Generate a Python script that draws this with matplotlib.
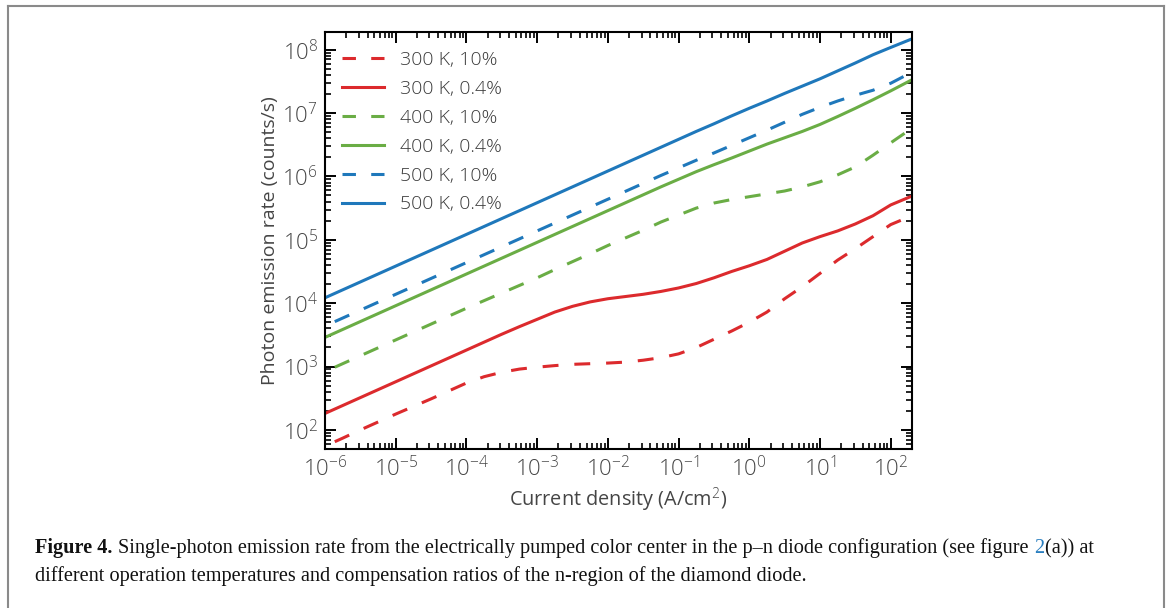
import numpy as np
import matplotlib
matplotlib.use("Agg")
import matplotlib.pyplot as plt
from matplotlib.ticker import LogLocator, NullFormatter, FuncFormatter
from matplotlib.lines import Line2D
from matplotlib.font_manager import FontProperties

# ---------------- data (stored as log10 values) ----------------
log_current_density = [-6.0, -5.75, -5.5, -5.25, -5.0, -4.75, -4.5, -4.25, -4.0, -3.75,
                       -3.5, -3.25, -3.0, -2.75, -2.5, -2.25, -2.0, -1.75, -1.5, -1.25,
                       -1.0, -0.75, -0.5, -0.25, 0.0, 0.25, 0.5, 0.75, 1.0, 1.25,
                       1.5, 1.75, 2.0, 2.3]

log_rate_300K_10 = [1.745, 1.87, 2.00, 2.125, 2.25, 2.37, 2.49, 2.615, 2.74, 2.84,
                    2.91, 2.96, 2.99, 3.015, 3.035, 3.045, 3.055, 3.07, 3.10, 3.14,
                    3.20, 3.30, 3.43, 3.56, 3.70, 3.86, 4.07, 4.26, 4.47, 4.68,
                    4.86, 5.05, 5.24, 5.38]
log_rate_300K_04 = [2.26, 2.385, 2.51, 2.635, 2.76, 2.885, 3.01, 3.135, 3.26, 3.385,
                    3.51, 3.63, 3.745, 3.86, 3.95, 4.02, 4.07, 4.105, 4.14, 4.185,
                    4.24, 4.31, 4.40, 4.50, 4.59, 4.69, 4.82, 4.95, 5.05, 5.14,
                    5.25, 5.38, 5.55, 5.69]
log_rate_400K_10 = [2.92, 3.045, 3.17, 3.295, 3.42, 3.545, 3.67, 3.795, 3.92, 4.04,
                    4.16, 4.28, 4.40, 4.53, 4.655, 4.78, 4.91, 5.03, 5.15, 5.28,
                    5.39, 5.50, 5.58, 5.635, 5.68, 5.725, 5.77, 5.835, 5.915, 6.025,
                    6.15, 6.335, 6.53, 6.76]
log_rate_400K_04 = [3.46, 3.585, 3.71, 3.835, 3.96, 4.085, 4.21, 4.335, 4.46, 4.585,
                    4.71, 4.835, 4.96, 5.085, 5.21, 5.335, 5.46, 5.585, 5.71, 5.835,
                    5.955, 6.075, 6.185, 6.29, 6.40, 6.51, 6.61, 6.71, 6.82, 6.945,
                    7.075, 7.21, 7.35, 7.525]
log_rate_500K_10 = [3.64, 3.765, 3.89, 4.015, 4.14, 4.265, 4.39, 4.515, 4.64, 4.765,
                    4.89, 5.015, 5.14, 5.265, 5.39, 5.515, 5.64, 5.765, 5.89, 6.015,
                    6.135, 6.255, 6.37, 6.49, 6.61, 6.73, 6.855, 6.98, 7.09, 7.19,
                    7.28, 7.36, 7.47, 7.645]
log_rate_500K_04 = [4.085, 4.21, 4.335, 4.46, 4.585, 4.71, 4.835, 4.96, 5.085, 5.21,
                    5.335, 5.46, 5.585, 5.71, 5.835, 5.96, 6.085, 6.21, 6.335, 6.46,
                    6.585, 6.71, 6.83, 6.955, 7.075, 7.19, 7.31, 7.425, 7.54, 7.665,
                    7.79, 7.92, 8.035, 8.17]

labels = ["300 K, 10%", "300 K, 0.4%", "400 K, 10%", "400 K, 0.4%", "500 K, 10%", "500 K, 0.4%"]
series = [log_rate_300K_10, log_rate_300K_04, log_rate_400K_10,
          log_rate_400K_04, log_rate_500K_10, log_rate_500K_04]

RED = "#dc2a2d"
GREEN = "#6aad45"
BLUE = "#1f78bb"
colors = [RED, RED, GREEN, GREEN, BLUE, BLUE]
dashed = [True, False, True, False, True, False]

TXT = "#454545"
plt.rcParams["font.family"] = ["Open Sans", "DejaVu Sans"]
plt.rcParams["font.weight"] = "light"
plt.rcParams["mathtext.fontset"] = "custom"
plt.rcParams["mathtext.rm"] = "Open Sans:light"
plt.rcParams["mathtext.it"] = "Open Sans:light"
plt.rcParams["mathtext.bf"] = "Open Sans"

fig = plt.figure(figsize=(11.7, 6.08), dpi=100)
W, H = 1170, 608
ax = fig.add_axes([325 / W, 1 - 449 / H, (912 - 325) / W, (449 - 32) / H])

LW = 2.2
DASH = (5.2, 5.2)
x = 10.0 ** np.asarray(log_current_density)
handles = []
for ly, c, d, lab in zip(series, colors, dashed, labels):
    y = 10.0 ** np.asarray(ly)
    if d:
        ax.plot(x, y, color=c, lw=LW, linestyle=(6.9, DASH), dash_capstyle="butt")
        handles.append(Line2D([], [], color=c, lw=LW, linestyle=(0, (4.4, 5.0)),
                              dash_capstyle="butt", label=lab))
    else:
        ax.plot(x, y, color=c, lw=LW)
        handles.append(Line2D([], [], color=c, lw=LW, label=lab))

ax.set_xscale("log")
ax.set_yscale("log")
ax.set_xlim(1e-6, 2e2)
ax.set_ylim(50, 1.9e8)

ax.xaxis.set_major_locator(LogLocator(base=10, numticks=20))
ax.xaxis.set_minor_locator(LogLocator(base=10, subs=np.arange(2, 10), numticks=20))
ax.yaxis.set_major_locator(LogLocator(base=10, numticks=20))
ax.yaxis.set_minor_locator(LogLocator(base=10, subs=np.arange(2, 10), numticks=20))
fmt = FuncFormatter(lambda v, p: r"$10^{%d}$" % int(round(np.log10(v))))
ax.xaxis.set_major_formatter(fmt)
ax.yaxis.set_major_formatter(fmt)
ax.xaxis.set_minor_formatter(NullFormatter())
ax.yaxis.set_minor_formatter(NullFormatter())

ax.tick_params(which="both", direction="in", top=True, right=True, colors="black",
               labelcolor=TXT, labelsize=16)
ax.tick_params(which="major", length=8, width=1.4, pad=5)
ax.tick_params(which="minor", length=4.5, width=1.2)
for s in ax.spines.values():
    s.set_linewidth(1.5)

ax.set_xlabel("Current density (A/cm$^2$)", fontsize=14.3, color=TXT, labelpad=3)
ax.set_ylabel("Photon emission rate (counts/s)", fontsize=14, color=TXT, labelpad=2)

leg = ax.legend(handles=handles, loc="upper left", frameon=False, fontsize=14,
                handlelength=2.15, handletextpad=0.85, labelspacing=0.56,
                borderaxespad=0.47, bbox_to_anchor=(0.0, 0.995))
for t in leg.get_texts():
    t.set_color("#3a3a3a")

# outer border
border = "#8a8a8a"
fig.add_artist(Line2D([7.5 / W, 1163.5 / W], [1 - 5.5 / H, 1 - 5.5 / H], transform=fig.transFigure, color=border, lw=1.5))
fig.add_artist(Line2D([7.5 / W, 7.5 / W], [0, 1 - 5.5 / H], transform=fig.transFigure, color=border, lw=1.5))
fig.add_artist(Line2D([1163.5 / W, 1163.5 / W], [0, 1 - 5.5 / H], transform=fig.transFigure, color=border, lw=1.5))

# caption (pieces placed side by side; size chosen so line 1 spans the reference width)
cap_font = ["Liberation Serif", "DejaVu Serif"]
CAP = "#111111"
pieces1 = [("Figure 4.", "bold", CAP, 6),
           ("Single-photon emission rate from the electrically pumped color center in the p\u2013n diode configuration (see figure ", "normal", CAP, 0.5),
           ("2", "normal", "#2a7fc0", 0.5),
           ("(a)) at", "normal", CAP, 0)]
line2 = "different operation temperatures and compensation ratios of the n-region of the diamond diode."
x0, x_end = 35, 1090
y1, y2 = 553, 581
renderer = fig.canvas.get_renderer()


def widths(size):
    out = []
    for txt, wgt, col, gap in pieces1:
        fp = FontProperties(family=cap_font, weight=wgt, size=size)
        w, h, d = renderer.get_text_width_height_descent(txt, fp, ismath=False)
        out.append(w)
    return out


w13 = widths(13)
total13 = sum(w13) + sum(p[3] for p in pieces1)
size = 13 * (x_end - x0) / total13
ws = widths(size)
xp = x0
for (txt, wgt, col, gap), w in zip(pieces1, ws):
    fig.text(xp / W, 1 - y1 / H, txt, fontsize=size, fontweight=wgt, family=cap_font,
             va="baseline", ha="left", color=col)
    xp += w + gap
fig.text(x0 / W, 1 - y2 / H, line2, fontsize=size, family=cap_font,
         va="baseline", ha="left", color=CAP)

fig.savefig("out.png", dpi=100)
